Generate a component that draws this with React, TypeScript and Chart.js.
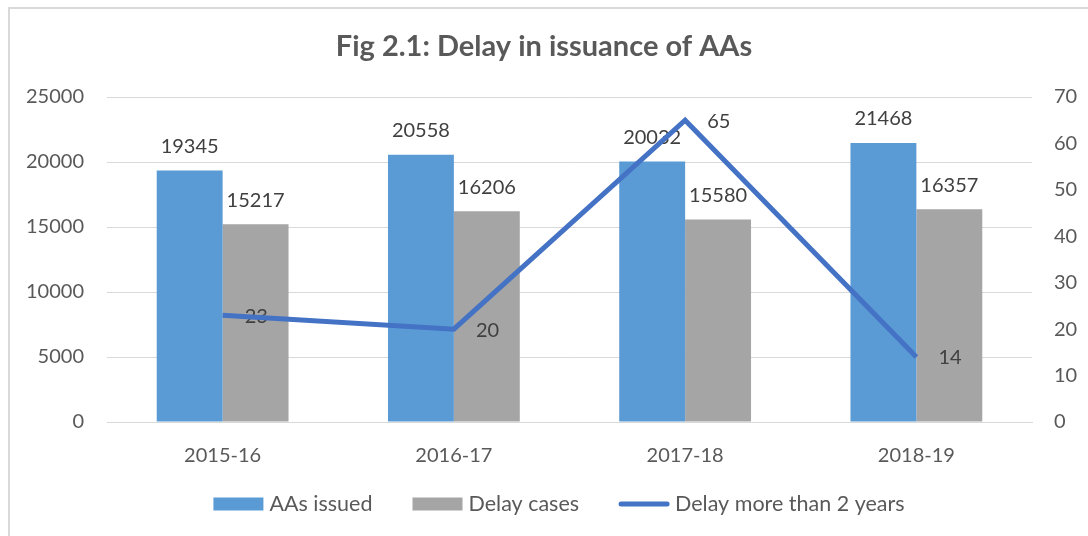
import React, { useEffect, useRef } from 'react';
import { Chart, registerables } from 'chart.js';

Chart.register(...registerables);

const FONT = 'Lato';
const TITLE = 'Fig 2.1: Delay in issuance of AAs';

const categories = ['2015-16', '2016-17', '2017-18', '2018-19'];
const aasIssued = [19345, 20558, 20032, 21468];
const delayCases = [15217, 16206, 15580, 16357];
const delayOver2Years = [23, 20, 65, 14];

const seriesNames = ['AAs issued', 'Delay cases', 'Delay more than 2 years'];
const BLUE = '#5B9BD5';
const GRAY = '#A5A5A5';
const LINE = '#4472C4';
const TICK_COLOR = '#595959';
const LABEL_COLOR = '#404040';
const GRID = '#D9D9D9';

const framePlugin = {
  id: 'frame',
  beforeDraw(chart: any) {
    const ctx = chart.ctx;
    ctx.save();
    ctx.fillStyle = '#ffffff';
    ctx.fillRect(0, 0, chart.width, chart.height);
    ctx.strokeStyle = GRID;
    ctx.lineWidth = 2;
    ctx.strokeRect(9, 8, chart.width + 100, chart.height + 100);
    ctx.restore();
  },
};

const valueLabelPlugin = {
  id: 'valueLabels',
  afterDatasetDraw(chart: any, args: any) {
    const meta = args.meta;
    if (meta.type !== 'bar') return;
    const ds = chart.data.datasets[args.index];
    const ctx = chart.ctx;
    ctx.save();
    ctx.font = `20px ${FONT}`;
    ctx.fillStyle = LABEL_COLOR;
    ctx.textAlign = 'center';
    ctx.textBaseline = 'middle';
    meta.data.forEach((el: any, i: number) => {
      ctx.fillText(String(ds.data[i]), el.x, el.y - 24);
    });
    ctx.restore();
  },
  beforeDatasetDraw(chart: any, args: any) {
    const meta = args.meta;
    if (meta.type !== 'line') return;
    const ds = chart.data.datasets[args.index];
    const ctx = chart.ctx;
    ctx.save();
    ctx.font = `20px ${FONT}`;
    ctx.fillStyle = LABEL_COLOR;
    ctx.textAlign = 'left';
    ctx.textBaseline = 'middle';
    meta.data.forEach((el: any, i: number) => {
      ctx.fillText(String(ds.data[i]), el.x + 22, el.y + 1);
    });
    ctx.restore();
  },
};

const legendPlugin = {
  id: 'customLegend',
  afterDraw(chart: any) {
    const ctx = chart.ctx;
    ctx.save();
    ctx.font = `21.5px ${FONT}`;
    ctx.textBaseline = 'middle';
    ctx.textAlign = 'left';
    const markerW = 50;
    const gapText = 6;
    const gapItem = 40;
    const datasets = chart.data.datasets;
    const widths = datasets.map((d: any) => markerW + gapText + ctx.measureText(d.label).width);
    const total = widths.reduce((a: number, b: number) => a + b, 0) + gapItem * (datasets.length - 1);
    let x = 559 - total / 2;
    const y = 504;
    datasets.forEach((d: any, i: number) => {
      if (d.type === 'line') {
        ctx.strokeStyle = d.borderColor;
        ctx.lineWidth = 5;
        ctx.lineCap = 'round';
        ctx.beginPath();
        ctx.moveTo(x + 2, y);
        ctx.lineTo(x + markerW - 2, y);
        ctx.stroke();
      } else {
        ctx.fillStyle = d.backgroundColor;
        ctx.fillRect(x, y - 6.5, markerW, 13);
      }
      ctx.fillStyle = TICK_COLOR;
      ctx.fillText(d.label, x + markerW + gapText, y);
      x += widths[i] + gapItem;
    });
    ctx.restore();
  },
};

export default function App() {
  const ref = useRef<HTMLCanvasElement>(null);
  useEffect(() => {
    if (!ref.current) return;
    const chart = new Chart(ref.current, {
      type: 'bar',
      data: {
        labels: categories,
        datasets: [
          {
            type: 'bar',
            label: seriesNames[0],
            data: aasIssued,
            backgroundColor: BLUE,
            yAxisID: 'y',
            order: 1,
            categoryPercentage: 0.57,
            barPercentage: 1.0,
          },
          {
            type: 'bar',
            label: seriesNames[1],
            data: delayCases,
            backgroundColor: GRAY,
            yAxisID: 'y',
            order: 1,
            categoryPercentage: 0.57,
            barPercentage: 1.0,
          },
          {
            type: 'line',
            label: seriesNames[2],
            data: delayOver2Years,
            borderColor: LINE,
            backgroundColor: LINE,
            borderWidth: 5,
            pointRadius: 0,
            tension: 0,
            yAxisID: 'y1',
            order: 0,
          } as any,
        ],
      },
      options: {
        responsive: true,
        maintainAspectRatio: false,
        animation: false,
        layout: { padding: { left: 0, right: 0, top: 0, bottom: 54 } },
        plugins: {
          legend: { display: false },
          tooltip: { enabled: false },
          title: {
            display: true,
            text: TITLE,
            color: TICK_COLOR,
            font: { family: FONT, size: 29, weight: 'bold' },
            padding: { top: 29.6, bottom: 32.6 },
          },
        },
        scales: {
          x: {
            grid: { display: false },
            border: { color: GRID, width: 1 },
            ticks: { color: TICK_COLOR, font: { family: FONT, size: 20 }, padding: 14 },
            afterFit: (s: any) => { s.height = 60; },
          },
          y: {
            position: 'left',
            min: 0,
            max: 25000,
            ticks: {
              stepSize: 5000,
              color: TICK_COLOR,
              font: { family: FONT, size: 20 },
              padding: 23,
              callback: (v: any) => String(v),
            },
            grid: { color: GRID, drawTicks: false },
            border: { display: false },
            afterFit: (s: any) => { s.width = 107; },
          },
          y1: {
            position: 'right',
            min: 0,
            max: 70,
            ticks: {
              stepSize: 10,
              color: TICK_COLOR,
              font: { family: FONT, size: 20 },
              padding: 22,
              callback: (v: any) => String(v),
            },
            grid: { display: false, drawTicks: false },
            border: { display: false },
            afterFit: (s: any) => { s.width = 56; },
          },
        },
      } as any,
      plugins: [framePlugin, valueLabelPlugin, legendPlugin],
    });
    return () => chart.destroy();
  }, []);
  return (
    <div style={{ position: 'absolute', left: 0, top: 0, width: 1088, height: 536 }}>
      <canvas ref={ref} />
    </div>
  );
}
